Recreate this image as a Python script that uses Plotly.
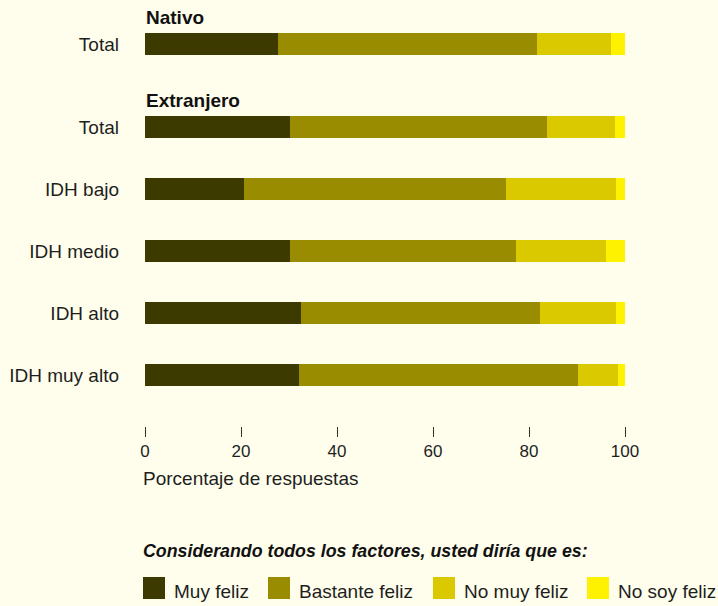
import plotly.graph_objects as go

# ---------------- data ----------------
groups = ["Nativo", "Extranjero", "Extranjero", "Extranjero", "Extranjero", "Extranjero"]
categories = ["Total", "Total", "IDH bajo", "IDH medio", "IDH alto", "IDH muy alto"]
series_names = ["Muy feliz", "Bastante feliz", "No muy feliz", "No soy feliz"]
muy_feliz = [27.7, 30.2, 20.6, 30.2, 32.5, 32.1]
bastante_feliz = [54.0, 53.5, 54.6, 47.1, 49.8, 58.1]
no_muy_feliz = [15.4, 14.2, 22.9, 18.7, 15.8, 8.3]
no_soy_feliz = [2.9, 2.1, 1.9, 4.0, 1.9, 1.5]
x_ticks = [0, 20, 40, 60, 80, 100]
x_title = "Porcentaje de respuestas"
legend_title = "Considerando todos los factores, usted diría que es:"

# ---------------- style ----------------
colors = ["#3D3A00", "#998C00", "#DBC900", "#FFF200"]
bg = "#FFFEEC"
font_family = "Liberation Sans, Arial, sans-serif"
text_color = "#1E1E1E"

W, H = 718, 606
ML, PW = 145, 480          # plot left and width (px)
PT, PH = 0, 426            # plot top and height (px)
row_step, group_gap, first_center = 62, 21, 44
bar_h = 22

# compute row centers (px units, y axis reversed)
centers = []
y = first_center
for i, g in enumerate(groups):
    if i > 0:
        y += row_step + (group_gap if g != groups[i - 1] else 0)
    centers.append(y)

def px_to_paper_x(px):
    return (px - ML) / PW

def px_to_paper_y(py):
    return 1 - (py - PT) / PH

fig = go.Figure()
all_series = [muy_feliz, bastante_feliz, no_muy_feliz, no_soy_feliz]
for name, vals, col in zip(series_names, all_series, colors):
    fig.add_trace(go.Bar(
        y=centers, x=vals, name=name, orientation="h",
        marker=dict(color=col, line=dict(width=0)),
        width=bar_h, showlegend=False,
        hovertemplate="%{x:.1f}%<extra>" + name + "</extra>",
    ))

annotations = []
# group headers
seen = set()
for g, c in zip(groups, centers):
    if g not in seen:
        seen.add(g)
        annotations.append(dict(
            x=0, y=c - 27, xref="x", yref="y", text="<b>" + g + "</b>",
            showarrow=False, xanchor="left", yanchor="middle", xshift=-1,
            font=dict(size=19, color="#111111", family=font_family)))

# x axis title (left aligned)
annotations.append(dict(
    x=px_to_paper_x(141), y=px_to_paper_y(478), xref="paper", yref="paper",
    text=x_title, showarrow=False, xanchor="left", yanchor="middle",
    font=dict(size=19, color=text_color, family=font_family)))

# legend title
annotations.append(dict(
    x=px_to_paper_x(141), y=px_to_paper_y(551), xref="paper", yref="paper",
    text="<b><i>" + legend_title + "</i></b>", showarrow=False,
    xanchor="left", yanchor="middle",
    font=dict(size=17.8, color="#111111", family=font_family)))

# manual legend
legend_sq_x = [143, 268, 433, 587]
sq = 22
sq_top = 577
shapes = []
for name, col, sx in zip(series_names, colors, legend_sq_x):
    shapes.append(dict(
        type="rect", xref="paper", yref="paper",
        x0=px_to_paper_x(sx), x1=px_to_paper_x(sx + sq),
        y0=px_to_paper_y(sq_top + sq), y1=px_to_paper_y(sq_top),
        fillcolor=col, line=dict(width=0)))
    annotations.append(dict(
        x=px_to_paper_x(sx + sq + 7), y=px_to_paper_y(591), xref="paper", yref="paper",
        text=name, showarrow=False, xanchor="left", yanchor="middle",
        font=dict(size=19, color=text_color, family=font_family)))

fig.update_layout(
    width=W, height=H,
    margin=dict(l=ML, r=W - ML - PW, t=PT, b=H - PT - PH, pad=0),
    paper_bgcolor=bg, plot_bgcolor=bg,
    barmode="stack", bargap=0,
    font=dict(family=font_family, color=text_color),
    annotations=annotations, shapes=shapes,
    showlegend=False,
    xaxis=dict(range=[0, 100], tickvals=x_ticks, ticks="outside", ticklen=10,
               tickcolor="#333333", tickwidth=1, showgrid=False, zeroline=False,
               showline=False, tickfont=dict(size=17, color=text_color),
               fixedrange=True),
    yaxis=dict(range=[PH, 0], tickvals=centers, ticktext=categories,
               showgrid=False, zeroline=False, showline=False, ticks="",
               ticklabelstandoff=25, tickfont=dict(size=19, color=text_color),
               fixedrange=True),
)

fig.write_html("out.html", config={"displayModeBar": False},
               post_script="document.body.style.margin='0';"
                           "document.body.style.background='" + bg + "';")
